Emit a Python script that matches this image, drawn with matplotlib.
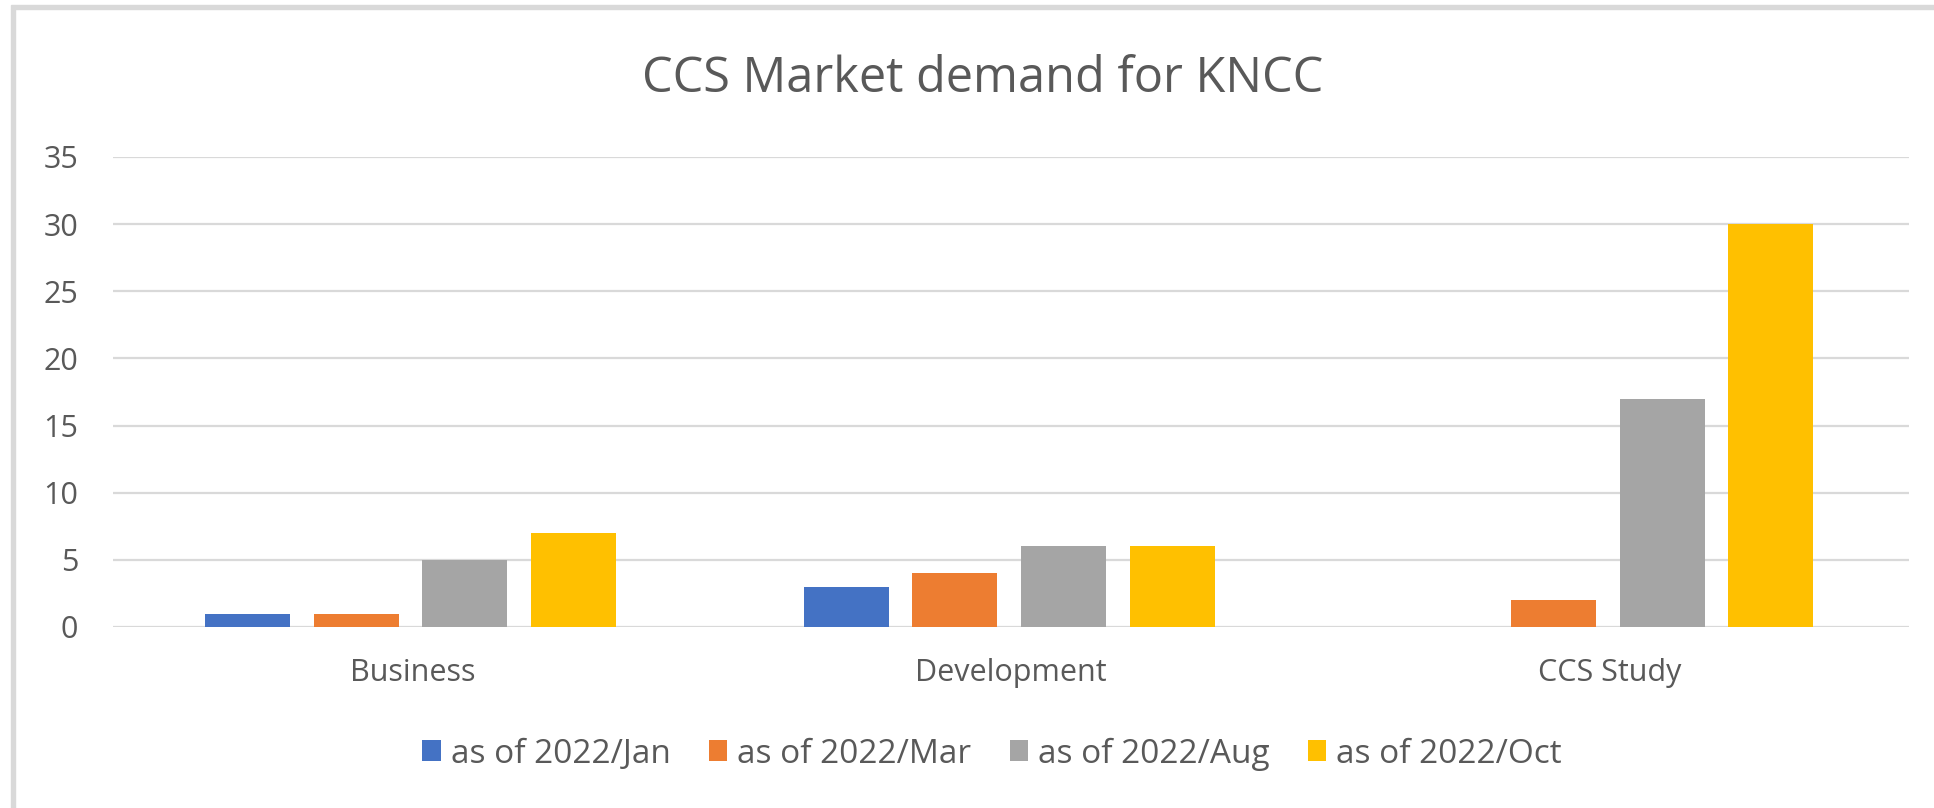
import numpy as np
import matplotlib
matplotlib.use("Agg")
import matplotlib.pyplot as plt
from matplotlib.patches import Rectangle

W, H, DPI = 1934, 808, 100

categories = ["Business", "Development", "CCS Study"]
series_names = ["as of 2022/Jan", "as of 2022/Mar", "as of 2022/Aug", "as of 2022/Oct"]
jan = [1, 3, 0]
mar = [1, 4, 2]
aug = [5, 6, 17]
oct_ = [7, 6, 30]
y_ticks = [0, 5, 10, 15, 20, 25, 30, 35]

colors = ["#4472C4", "#ED7D31", "#A5A5A5", "#FFC000"]
text_color = "#595959"
grid_color = "#D9D9D9"

plt.rcParams['font.family'] = ['Open Sans', 'DejaVu Sans']

###############################################################################

def px_x(x):
    ''' Figure fraction for a horizontal pixel position '''
    return x / W

def px_y(y):
    ''' Figure fraction for a vertical pixel position (from top) '''
    return 1 - y / H

fig = plt.figure(figsize=(W / DPI, H / DPI), dpi=DPI)
fig.patch.set_facecolor("white")

# screenshot frame (top and left edges)
fig.patches.append(Rectangle((px_x(11), px_y(9)), 1, px_y(5) - px_y(9),
                             transform=fig.transFigure, color=grid_color, zorder=0))
fig.patches.append(Rectangle((px_x(11), 0), px_x(4), px_y(9),
                             transform=fig.transFigure, color=grid_color, zorder=0))

left, right, top, bottom = 113, 1909, 157, 627
ax = fig.add_axes([px_x(left), px_y(bottom), px_x(right - left), px_y(top) - px_y(bottom)])

x = np.arange(len(categories))
bar_w = 0.142
pitch = 0.1816
all_series = [jan, mar, aug, oct_]
for i, (vals, name, c) in enumerate(zip(all_series, series_names, colors)):
    offs = (i - 1.5) * pitch
    ax.bar(x + offs - 0.003, vals, width=bar_w, color=c, label=name, zorder=3)

ax.set_xlim(-0.5, len(categories) - 0.5)
ax.set_ylim(0, 35)
ax.set_yticks(y_ticks)
ax.set_xticks(x)
ax.set_xticklabels(categories)
ax.tick_params(axis="y", length=0, pad=25, labelsize=22, labelcolor=text_color)
ax.tick_params(axis="x", length=0, pad=22, labelsize=22, labelcolor=text_color)
ax.yaxis.grid(True, color=grid_color, linewidth=1.6, zorder=0)
ax.set_axisbelow(True)
for s in ax.spines.values():
    s.set_visible(False)

fig.text(px_x(983), px_y(79), "CCS Market demand for KNCC", ha="center", va="center",
         fontsize=35, color=text_color)

handles, labels = ax.get_legend_handles_labels()
leg = fig.legend(handles, labels, loc="center", bbox_to_anchor=(px_x(992), px_y(754)),
                 ncol=4, frameon=False, fontsize=24, handlelength=0.55, handleheight=0.6,
                 handletextpad=0.3, columnspacing=1.15, labelcolor=text_color)

fig.savefig("out.png", dpi=DPI)
